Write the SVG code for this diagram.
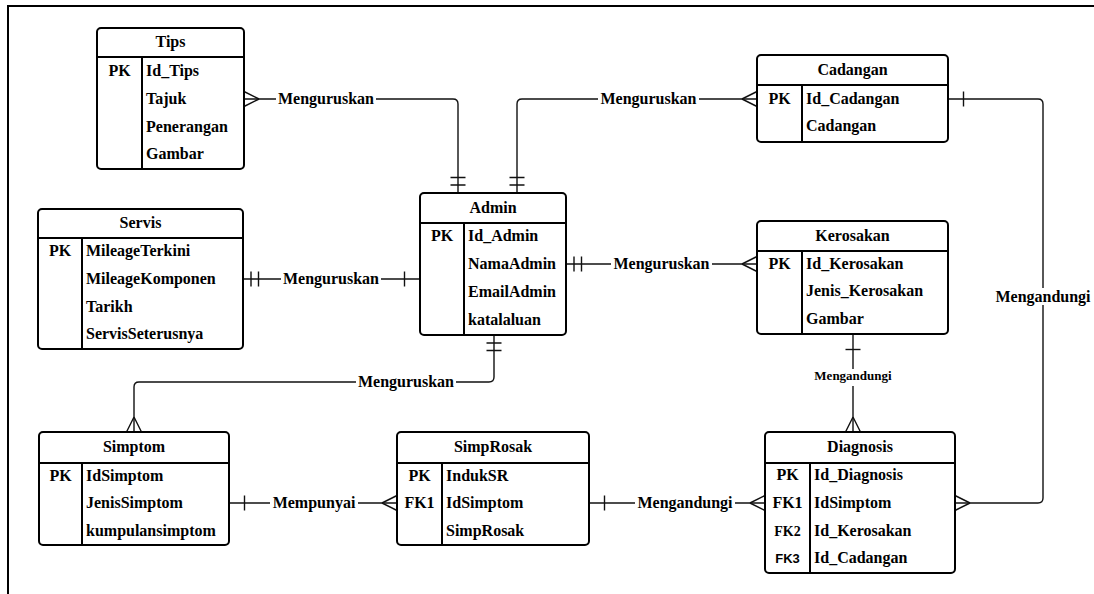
<svg xmlns="http://www.w3.org/2000/svg" width="1094" height="594" viewBox="0 0 1094 594">
  <style>
    .box{fill:#fff;stroke:#000;stroke-width:2}
    .rule{stroke:#000;stroke-width:2;fill:none}
    .t{font-family:"Liberation Serif","Times New Roman",serif;font-weight:bold;font-size:16px;fill:#000}
    .c{text-anchor:middle}
    .sm{font-size:13px}
    .k2{font-size:14px}
    .k3{font-family:"Liberation Sans",Arial,sans-serif;font-size:13px}
    .ln{fill:none;stroke:#111;stroke-width:1.4}
    .bg{fill:#fff}
    .mk{fill:none;stroke:#111;stroke-width:1.4}
  </style>
  <defs>
    <!-- crow's foot: many -->
    <marker id="many" markerUnits="userSpaceOnUse" viewBox="-17 -10 19 20" markerWidth="19" markerHeight="20" refX="0" refY="0" orient="auto-start-reverse" overflow="visible">
      <path class="mk" d="M-15,0 L0,-7.5 M-15,0 L0,7.5"/>
    </marker>
    <!-- single bar: one -->
    <marker id="one" markerUnits="userSpaceOnUse" viewBox="-17 -10 19 20" markerWidth="19" markerHeight="20" refX="0" refY="0" orient="auto-start-reverse" overflow="visible">
      <path class="mk" d="M-15.5,-7.5 V7.5"/>
    </marker>
    <!-- double bar: one and only one -->
    <marker id="mand" markerUnits="userSpaceOnUse" viewBox="-17 -10 19 20" markerWidth="19" markerHeight="20" refX="0" refY="0" orient="auto-start-reverse" overflow="visible">
      <path class="mk" d="M-8,-7.5 V7.5 M-15.5,-7.5 V7.5"/>
    </marker>
  </defs>

  <rect width="1094" height="594" fill="#fff"/>
  <!-- frame -->
  <path d="M8,594 V6 H1094" fill="none" stroke="#000" stroke-width="2"/>

  <!-- relationships -->
  <g id="connectors">
    <path class="ln" d="M244,99 H453 Q458,99 458,104 V193" marker-start="url(#many)" marker-end="url(#mand)"/>
    <path class="ln" d="M757,99 H522 Q517,99 517,104 V193" marker-start="url(#many)" marker-end="url(#mand)"/>
    <path class="ln" d="M243,279 H420" marker-start="url(#mand)" marker-end="url(#one)"/>
    <path class="ln" d="M566,264 H757" marker-start="url(#mand)" marker-end="url(#many)"/>
    <path class="ln" d="M494,335 V377 Q494,382 489,382 H139 Q134,382 134,387 V432" marker-start="url(#mand)" marker-end="url(#many)"/>
    <path class="ln" d="M229,503 H397" marker-start="url(#one)" marker-end="url(#many)"/>
    <path class="ln" d="M589,503 H765" marker-start="url(#one)" marker-end="url(#many)"/>
    <path class="ln" d="M853,334 V432" marker-start="url(#one)" marker-end="url(#many)"/>
    <path class="ln" d="M948,99 H1038 Q1043,99 1043,104 V498 Q1043,503 1038,503 H955" marker-start="url(#one)" marker-end="url(#many)"/>

    <g id="labels">
      <rect class="bg" x="276" y="92" width="100" height="14"/>
      <text class="t c" x="326" y="104">Menguruskan</text>
      <rect class="bg" x="598" y="92" width="101" height="14"/>
      <text class="t c" x="648.5" y="104">Menguruskan</text>
      <rect class="bg" x="281" y="272" width="100" height="14"/>
      <text class="t c" x="331" y="284">Menguruskan</text>
      <rect class="bg" x="611" y="257" width="101" height="14"/>
      <text class="t c" x="661.5" y="269">Menguruskan</text>
      <rect class="bg" x="356" y="375" width="100" height="14"/>
      <text class="t c" x="406" y="387">Menguruskan</text>
      <rect class="bg" x="270" y="496" width="88" height="14"/>
      <text class="t c" x="314" y="508">Mempunyai</text>
      <rect class="bg" x="635" y="496" width="100" height="14"/>
      <text class="t c" x="685" y="508">Mengandungi</text>
      <rect class="bg" x="813" y="369" width="80" height="17"/>
      <text class="t c sm" x="853" y="380">Mengandungi</text>
      <rect class="bg" x="994" y="288" width="98" height="17"/>
      <text class="t c" x="1043" y="302">Mengandungi</text>
    </g>
  </g>

  <!-- entities -->
  <g id="tips">
    <rect class="box" x="97" y="28" width="147" height="141" rx="4"/>
    <path class="rule" d="M97,57 H244 M142,57 V169"/>
    <text class="t c" x="170.5" y="47">Tips</text>
    <text class="t c" x="119.5" y="76">PK</text>
    <text class="t" x="146" y="76">Id_Tips</text>
    <text class="t" x="146" y="104">Tajuk</text>
    <text class="t" x="146" y="132">Penerangan</text>
    <text class="t" x="146" y="159">Gambar</text>
  </g>

  <g id="cadangan">
    <rect class="box" x="757" y="55" width="191" height="87" rx="4"/>
    <path class="rule" d="M757,85 H948 M802,85 V142"/>
    <text class="t c" x="852.5" y="75">Cadangan</text>
    <text class="t c" x="779.5" y="104">PK</text>
    <text class="t" x="806" y="104">Id_Cadangan</text>
    <text class="t" x="806" y="131">Cadangan</text>
  </g>

  <g id="servis">
    <rect class="box" x="38" y="209" width="205" height="140" rx="4"/>
    <path class="rule" d="M38,238 H243 M82,238 V349"/>
    <text class="t c" x="140.5" y="228">Servis</text>
    <text class="t c" x="60" y="256">PK</text>
    <text class="t" x="86" y="256">MileageTerkini</text>
    <text class="t" x="86" y="284">MileageKomponen</text>
    <text class="t" x="86" y="312">Tarikh</text>
    <text class="t" x="86" y="339">ServisSeterusnya</text>
  </g>

  <g id="admin">
    <rect class="box" x="420" y="193" width="146" height="142" rx="4"/>
    <path class="rule" d="M420,223 H566 M464,223 V335"/>
    <text class="t c" x="493" y="213">Admin</text>
    <text class="t c" x="442" y="241">PK</text>
    <text class="t" x="468" y="241">Id_Admin</text>
    <text class="t" x="468" y="269">NamaAdmin</text>
    <text class="t" x="468" y="297">EmailAdmin</text>
    <text class="t" x="468" y="325">katalaluan</text>
  </g>

  <g id="kerosakan">
    <rect class="box" x="757" y="221" width="191" height="113" rx="4"/>
    <path class="rule" d="M757,251 H948 M802,251 V334"/>
    <text class="t c" x="852.5" y="241">Kerosakan</text>
    <text class="t c" x="779.5" y="269">PK</text>
    <text class="t" x="806" y="269">Id_Kerosakan</text>
    <text class="t" x="806" y="296">Jenis_Kerosakan</text>
    <text class="t" x="806" y="324">Gambar</text>
  </g>

  <g id="simptom">
    <rect class="box" x="39" y="432" width="190" height="113" rx="4"/>
    <path class="rule" d="M39,463 H229 M82,463 V545"/>
    <text class="t c" x="134" y="452">Simptom</text>
    <text class="t c" x="60.5" y="481">PK</text>
    <text class="t" x="86" y="481">IdSimptom</text>
    <text class="t" x="86" y="508">JenisSimptom</text>
    <text class="t" x="86" y="536">kumpulansimptom</text>
  </g>

  <g id="simprosak">
    <rect class="box" x="397" y="432" width="192" height="113" rx="4"/>
    <path class="rule" d="M397,463 H589 M442,463 V545"/>
    <text class="t c" x="493" y="452">SimpRosak</text>
    <text class="t c" x="419.5" y="481">PK</text>
    <text class="t c" x="419.5" y="508">FK1</text>
    <text class="t" x="446" y="481">IndukSR</text>
    <text class="t" x="446" y="508">IdSimptom</text>
    <text class="t" x="446" y="536">SimpRosak</text>
  </g>

  <g id="diagnosis">
    <rect class="box" x="765" y="432" width="190" height="141" rx="4"/>
    <path class="rule" d="M765,463 H955 M810,463 V573"/>
    <text class="t c" x="860" y="452">Diagnosis</text>
    <text class="t c" x="787.5" y="480">PK</text>
    <text class="t c" x="787.5" y="508">FK1</text>
    <text class="t c k2" x="787.5" y="536">FK2</text>
    <text class="t c k3" x="787.5" y="563">FK3</text>
    <text class="t" x="814" y="480">Id_Diagnosis</text>
    <text class="t" x="814" y="508">IdSimptom</text>
    <text class="t" x="814" y="536">Id_Kerosakan</text>
    <text class="t" x="814" y="563">Id_Cadangan</text>
  </g>
</svg>
